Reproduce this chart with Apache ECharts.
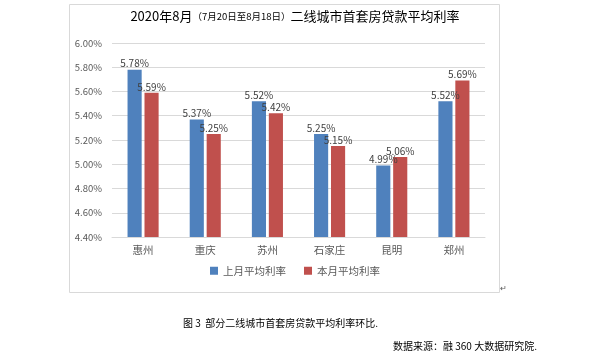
<!DOCTYPE html>
<html><head><meta charset="utf-8">
<script src="https://cdn.jsdelivr.net/npm/echarts@6/dist/echarts.min.js"></script>
<style>html,body{margin:0;padding:0;background:#fff}#c{width:590px;height:359px}</style>
</head><body><div id="c"></div>
<script>
const categories = ['惠州','重庆','苏州','石家庄','昆明','郑州'];
const lastMonth = [5.78, 5.37, 5.52, 5.25, 4.99, 5.52];
const thisMonth = [5.59, 5.25, 5.42, 5.15, 5.06, 5.69];
const seriesNames = ['上月平均利率','本月平均利率'];
const yMin = 4.4, yMax = 6.0, yStep = 0.2;

const font = '"Noto Sans CJK SC", "Microsoft YaHei", sans-serif';
const chart = echarts.init(document.getElementById('c'), null, {renderer:'canvas'});
const pct = v => Number(v).toFixed(2) + '%';
chart.setOption({
  animation: false,
  backgroundColor: '#fff',
  graphic: [
    {type:'rect', shape:{x:69.5, y:4.5, width:430, height:288}, style:{fill:'none', stroke:'#D9D9D9', lineWidth:1}},
    {type:'text', left:'center', top:10, x:0, style:{
      text:'{a|2020年8月}{b|（7月20日至8月18日）}{a|二线城市首套房贷款平均利率}',
      rich:{a:{fontSize:13, fontFamily:font, fill:'#000'}, b:{fontSize:9.5, fontFamily:font, fill:'#000'}}
    }},
    {type:'text', x:183, y:318, style:{text:'图 3  部分二线城市首套房贷款平均利率环比.', fontSize:10, fontFamily:font, fill:'#000'}},
    {type:'text', x:393, y:341, style:{text:'数据来源：融 360 大数据研究院.', fontSize:10, fontFamily:font, fill:'#000'}},
    {type:'text', x:500, y:284, style:{text:'↵', fontSize:8, fontFamily:font, fill:'#555'}}
  ],
  grid: {left:112, right:105, top:43, bottom:122, containLabel:false},
  legend: {
    data: seriesNames, bottom: 78, left:'center', itemWidth:8, itemHeight:8, itemGap:18,
    icon:'rect', textStyle:{fontSize:10.5, color:'#595959', fontFamily:font}
  },
  xAxis: {
    type:'category', data: categories,
    axisLine:{lineStyle:{color:'#D9D9D9'}}, axisTick:{show:false},
    axisLabel:{fontSize:10.5, color:'#595959', fontFamily:font, margin:8}
  },
  yAxis: {
    type:'value', min:yMin, max:yMax, interval:yStep,
    axisLine:{show:false}, axisTick:{show:false},
    splitLine:{lineStyle:{color:'#D9D9D9'}},
    axisLabel:{fontSize:9.5, color:'#595959', fontFamily:font, margin:10, formatter: v => pct(v)}
  },
  series: [
    {name:seriesNames[0], type:'bar', data:lastMonth, barGap:'20%', barCategoryGap:'50%',
     itemStyle:{color:'#4F81BD'},
     label:{show:true, position:'top', distance:1, fontSize:10, color:'#404040', fontFamily:font, formatter:p=>pct(p.value)}},
    {name:seriesNames[1], type:'bar', data:thisMonth,
     itemStyle:{color:'#C0504D'},
     label:{show:true, position:'top', distance:1, fontSize:10, color:'#404040', fontFamily:font, formatter:p=>pct(p.value)}}
  ]
});
</script></body></html>
